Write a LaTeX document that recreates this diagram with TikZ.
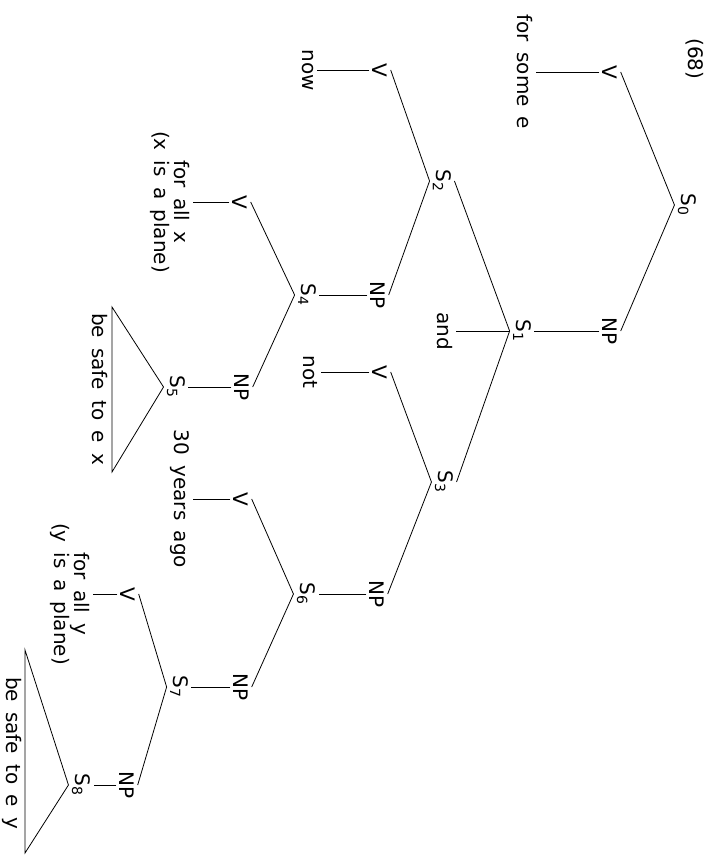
\documentclass[tikz,border=0pt]{standalone}
\usepackage{fontspec}
\setmainfont{DejaVu Sans}[WordSpace=1.6]
\tikzset{every picture/.style={line width=0.8pt}}
\tikzset{lbl/.style={rotate=-90, inner sep=3pt, font=\fontsize{20}{20}\selectfont}}

\begin{document}
\begin{tikzpicture}[x=1pt,y=1pt,yscale=-1,xscale=1]
	\useasboundingbox (0,0) rectangle (720,862);

	% Text Node
	\draw (695,59) node [lbl] (num) {(68)};
	% Text Node
	\draw (687,205) node [lbl] (S0) {S\textsubscript{0}};
	% Text Node
	\draw (610,72) node [lbl] (V0) {V};
	% Text Node
	\draw (525,72) node [lbl] (forsome) {for some e};
	% Text Node
	\draw (610,331) node [lbl] (NP0) {NP};
	% Text Node
	\draw (522,331) node [lbl] (S1) {S\textsubscript{1}};
	% Text Node
	\draw (445,331) node [lbl] (and) {and};
	% Text Node
	\draw (442,181) node [lbl] (S2) {S\textsubscript{2}};
	% Text Node
	\draw (380,70) node [lbl] (V2) {V};
	% Text Node
	\draw (308,70) node [lbl] (now) {now};
	% Text Node
	\draw (378,295) node [lbl] (NP2) {NP};
	% Text Node
	\draw (307,295) node [lbl] (S4) {S\textsubscript{4}};
	% Text Node
	\draw (240,202) node [lbl] (V4) {V};
	% Text Node
	\draw (170,202) node [lbl, align=center] (forallx) {for all x\\(x is a plane)};
	% Text Node
	\draw (242,387) node [lbl] (NP4) {NP};
	% Text Node
	\draw (176,387) node [lbl] (S5) {S\textsubscript{5}};
	% Text Node
	\draw (100,389) node [lbl] (safex) {be safe to e x};
	% Text Node
	\draw (444,482) node [lbl] (S3) {S\textsubscript{3}};
	% Text Node
	\draw (380,372) node [lbl] (V3) {V};
	% Text Node
	\draw (310,372) node [lbl] (not) {not};
	% Text Node
	\draw (377,594) node [lbl] (NP3) {NP};
	% Text Node
	\draw (306,594) node [lbl] (S6) {S\textsubscript{6}};
	% Text Node
	\draw (241,499) node [lbl] (V6) {V};
	% Text Node
	\draw (180,499) node [lbl] (years) {30 years ago};
	% Text Node
	\draw (241,687) node [lbl] (NP6) {NP};
	% Text Node
	\draw (179,687) node [lbl] (S7) {S\textsubscript{7}};
	% Text Node
	\draw (128,594) node [lbl] (V7) {V};
	% Text Node
	\draw (70,594) node [lbl, align=center] (forally) {for all y\\(y is a plane)};
	% Text Node
	\draw (127,785) node [lbl] (NP7) {NP};
	% Text Node
	\draw (81,785) node [lbl] (S8) {S\textsubscript{8}};
	% Text Node
	\draw (12,753) node [lbl] (safey) {be safe to e y};

	%Straight Lines
	\draw (S0.south) -- (V0.north);
	\draw (S0.south) -- (NP0.north);
	\draw (V0.south) -- (forsome.north);
	\draw (NP0.south) -- (S1.north);
	%Straight Lines
	\draw (S1.south) -- (S2.north);
	\draw (S1.south) -- (and.north);
	\draw (S1.south) -- (S3.north);
	%Straight Lines
	\draw (S2.south) -- (V2.north);
	\draw (S2.south) -- (NP2.north);
	\draw (V2.south) -- (now.north);
	\draw (NP2.south) -- (S4.north);
	\draw (S4.south) -- (V4.north);
	\draw (S4.south) -- (NP4.north);
	\draw (V4.south) -- (forallx.north);
	\draw (NP4.south) -- (S5.north);
	%Straight Lines
	\draw (S3.south) -- (V3.north);
	\draw (S3.south) -- (NP3.north);
	\draw (V3.south) -- (not.north);
	\draw (NP3.south) -- (S6.north);
	\draw (S6.south) -- (V6.north);
	\draw (S6.south) -- (NP6.north);
	\draw (V6.south) -- (years.north);
	\draw (NP6.south) -- (S7.north);
	\draw (S7.south) -- (V7.north);
	\draw (S7.south) -- (NP7.north);
	\draw (V7.south) -- (forally.north);
	\draw (NP7.south) -- (S8.north);

	%Shape: Triangle
	\coordinate (T5a) at (112,307);
	\coordinate (T5b) at (112,472);
	\draw (S5.south) -- (T5a) -- (T5b) -- cycle;
	%Shape: Triangle
	\coordinate (T8a) at (25,650);
	\coordinate (T8b) at (25,853);
	\draw (S8.south) -- (T8a) -- (T8b) -- cycle;

\end{tikzpicture}
\end{document}
